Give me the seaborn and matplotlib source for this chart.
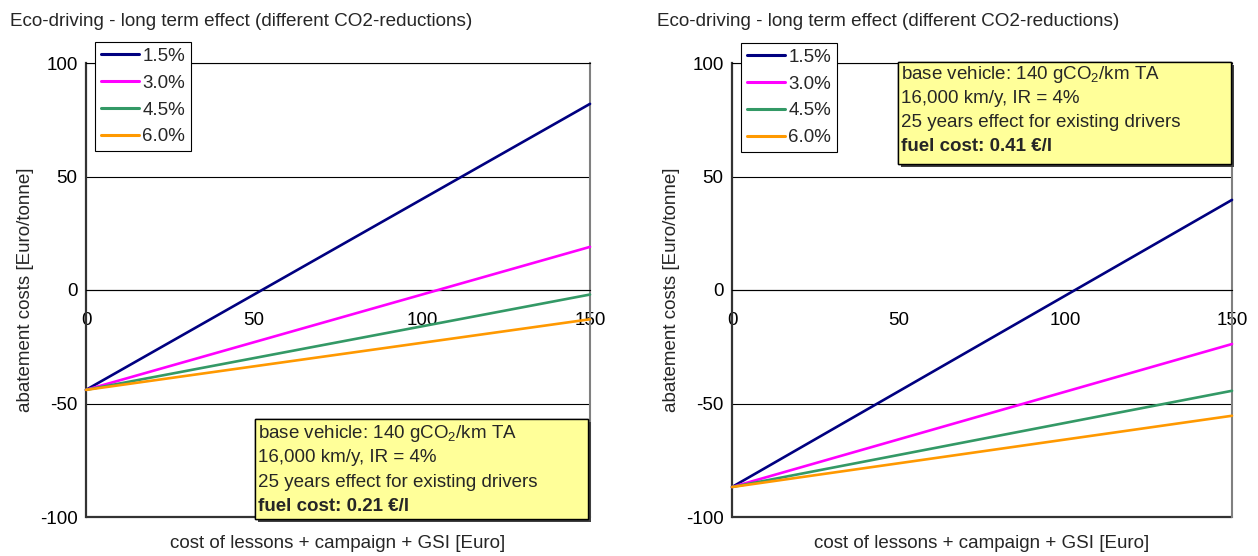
import matplotlib
matplotlib.use("Agg")
import matplotlib.pyplot as plt
import matplotlib.patheffects as pe
from matplotlib.patches import Rectangle
from matplotlib.lines import Line2D
import pandas as pd
import seaborn as sns

# ---- data -------------------------------------------------------------
reductions = ["1.5%", "3.0%", "4.5%", "6.0%"]
cost_eur = [0, 150]

# abatement costs [Euro/tonne] at cost 0 and 150 Euro, fuel cost 0.21 EUR/l
low_fuel_start = [-44.0, -44.0, -44.0, -44.0]
low_fuel_end = [82.0, 19.0, -2.0, -12.9]

# abatement costs [Euro/tonne] at cost 0 and 150 Euro, fuel cost 0.41 EUR/l
high_fuel_start = [-86.8, -86.8, -86.8, -86.8]
high_fuel_end = [39.7, -23.8, -44.4, -55.4]

x_ticks = [0, 50, 100, 150]
y_ticks = [-100, -50, 0, 50, 100]

title = "Eco-driving - long term effect (different CO2-reductions)"
x_label = "cost of lessons + campaign + GSI [Euro]"
y_label = "abatement costs [Euro/tonne]"
box_common = [r"base vehicle: 140 gCO$_\mathrm{2}$/km TA",
              "16,000 km/y, IR = 4%",
              "25 years effect for existing drivers"]
fuel_labels = ["fuel cost: 0.21 €/l", "fuel cost: 0.41 €/l"]

colors = ["#000080", "#FF00FF", "#339966", "#FF9900"]

# ---- style ------------------------------------------------------------
sns.set_style("white")
plt.rcParams["font.family"] = ["Liberation Sans", "DejaVu Sans"]
plt.rcParams["mathtext.fontset"] = "custom"
plt.rcParams["mathtext.rm"] = "Liberation Sans"
plt.rcParams["mathtext.it"] = "Liberation Sans:italic"
plt.rcParams["mathtext.bf"] = "Liberation Sans:bold"

FS = 13.5
W, H = 1258, 556
fig = plt.figure(figsize=(W / 100, H / 100), dpi=100)


def make_frame(starts, ends):
    rows = []
    for r, s, e in zip(reductions, starts, ends):
        rows.append({"cost": cost_eur[0], "abatement": s, "reduction": r})
        rows.append({"cost": cost_eur[1], "abatement": e, "reduction": r})
    return pd.DataFrame(rows)


panels = [
    dict(df=make_frame(low_fuel_start, low_fuel_end), left=86, right=590,
         title_x=10, box=(0.335, -0.004, 0.661, 0.22),
         text_x=0.341, text_y=[0.185, 0.131, 0.077, 0.023],
         legend_anchor=(0.018, 1.047), fuel=fuel_labels[0], ylab_x=-0.103),
    dict(df=make_frame(high_fuel_start, high_fuel_end), left=732, right=1232,
         title_x=657, box=(0.332, 0.778, 0.666, 0.224),
         text_x=0.338, text_y=[0.974, 0.921, 0.868, 0.815],
         legend_anchor=(0.018, 1.045), fuel=fuel_labels[1], ylab_x=-0.104),
]

ax_top, ax_bottom = 63, 517
for p in panels:
    ax = fig.add_axes([p["left"] / W, 1 - ax_bottom / H,
                       (p["right"] - p["left"]) / W, (ax_bottom - ax_top) / H])
    sns.lineplot(data=p["df"], x="cost", y="abatement", hue="reduction",
                 hue_order=reductions, palette=colors, linewidth=1.9,
                 legend=False, ax=ax, zorder=3)
    for ln in ax.get_lines():
        ln.set_clip_on(False)

    ax.set_xlim(0, 150)
    ax.set_ylim(-100, 100)

    # horizontal gridlines only
    ax.yaxis.grid(True, color="black", linewidth=0.8)
    ax.xaxis.grid(False)
    ax.set_axisbelow(True)

    # x axis crosses at zero
    ax.spines["bottom"].set_position(("data", 0))
    ax.spines["bottom"].set_color("black")
    ax.spines["bottom"].set_linewidth(0.8)
    ax.spines["left"].set_color("#333333")
    ax.spines["left"].set_linewidth(1.6)
    ax.spines["top"].set_color("black")
    ax.spines["top"].set_linewidth(0.8)
    ax.spines["right"].set_color("#808080")
    ax.spines["right"].set_linewidth(1.5)
    ax.axhline(-100, color="#333333", linewidth=1.6, clip_on=False, zorder=2)

    ax.set_xticks(x_ticks)
    ax.set_yticks(y_ticks)
    ax.set_xticklabels([str(v) for v in x_ticks])
    ax.set_yticklabels([str(v) for v in y_ticks])
    ax.tick_params(axis="x", direction="in", length=3, width=0.8,
                   color="black", pad=15.5, labelcolor="black", labelsize=FS)
    ax.tick_params(axis="y", direction="out", length=4, width=1.5,
                   color="#333333", pad=2, labelcolor="black", labelsize=FS)

    ax.set_xlabel(x_label, fontsize=FS)
    ax.xaxis.set_label_coords(0.5, -0.040)
    ax.set_ylabel(y_label, fontsize=FS)
    ax.yaxis.set_label_coords(p["ylab_x"], 0.5)

    fig.text(p["title_x"] / W, 1 - 21 / H, title, fontsize=FS + 0.1,
             ha="left", va="center")

    # legend
    handles = [Line2D([], [], color=c, linewidth=2.2) for c in colors]
    leg = ax.legend(handles, reductions, loc="upper left",
                    bbox_to_anchor=p["legend_anchor"],
                    bbox_transform=ax.transAxes, fontsize=FS,
                    frameon=True, fancybox=False, framealpha=1,
                    edgecolor="black", borderpad=0.32, handlelength=2.0,
                    handletextpad=0.2, labelspacing=0.52, borderaxespad=0)
    leg.get_frame().set_linewidth(0.8)
    leg.set_zorder(5)

    # info box with drop shadow
    bx, by, bw, bh = p["box"]
    rect = Rectangle((bx, by), bw, bh, transform=ax.transAxes,
                     facecolor="#FFFF99", edgecolor="black", linewidth=1.0,
                     clip_on=False, zorder=6)
    rect.set_path_effects([pe.withSimplePatchShadow(offset=(2.2, -2.2),
                                                    shadow_rgbFace="#404040",
                                                    alpha=1.0),
                           pe.Normal()])
    ax.add_patch(rect)
    lines = box_common + [p["fuel"]]
    for i, (txt, ty) in enumerate(zip(lines, p["text_y"])):
        ax.text(p["text_x"], ty, txt, transform=ax.transAxes, fontsize=FS,
                ha="left", va="center", zorder=7,
                fontweight="bold" if i == 3 else "normal")

fig.savefig("out.png", dpi=100)
